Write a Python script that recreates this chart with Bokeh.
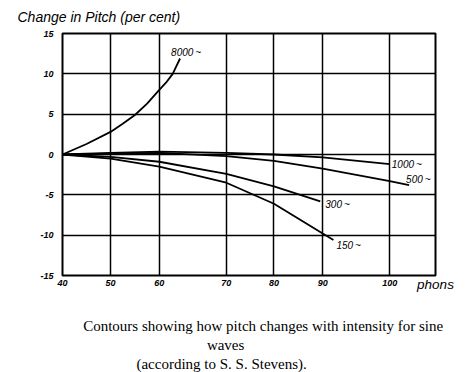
import numpy as np
from bokeh.plotting import figure
from bokeh.models import Range1d, FixedTicker, Label, LinearAxis
from bokeh.embed import file_html
from bokeh.resources import INLINE

# ---- data ----
phons_8000 = [40, 45, 50, 52.5, 55, 57.5, 60, 61, 62, 63.1]
pitch_8000 = [0, 1.3, 2.8, 3.8, 4.9, 6.3, 8.0, 8.9, 10.0, 11.9]

phons_1000 = [40, 50, 60, 70, 80, 90, 100]
pitch_1000 = [0, 0.2, 0.35, 0.2, 0.0, -0.35, -1.2]

phons_500 = [40, 50, 60, 70, 80, 90, 100, 104]
pitch_500 = [0, 0.1, 0.2, -0.2, -0.8, -1.75, -3.3, -3.8]

phons_300 = [40, 50, 60, 70, 80, 89.5]
pitch_300 = [0, -0.3, -0.9, -2.4, -3.95, -5.8]

phons_150 = [40, 50, 60, 70, 80, 90, 91.6]
pitch_150 = [0, -0.5, -1.5, -3.5, -6.1, -9.8, -10.6]

series_names = ["8000\u2009~", "1000\u2009~", "500\u2009~", "300\u2009~", "150\u2009~"]

x_ticks = [40, 50, 60, 70, 80, 90, 100]
y_ticks = [-15, -10, -5, 0, 5, 10, 15]

y_title = "Change in Pitch (per cent)"
x_unit = "phons"
caption = ["Contours showing how pitch changes with intensity for sine",
           "waves",
           "(according to S. S. Stevens)."]

# ---- non-uniform horizontal scale of the printed chart ----
SCALE_PHONS = [40, 50, 60, 70, 80, 90, 100, 110]
SCALE_POS = [0, 48, 96.7, 163.7, 211.3, 260, 327, 375.3]
X_END = 372.7


def xpos(ph):
    return np.interp(np.asarray(ph, dtype=float), SCALE_PHONS, SCALE_POS)


p = figure(frame_width=373, frame_height=242, output_backend="svg",
           toolbar_location=None, min_border_left=62, min_border_top=33,
           min_border_right=27, min_border_bottom=60)
p.x_range = Range1d(0, X_END)
p.y_range = Range1d(-15, 15)
p.background_fill_color = "white"
p.border_fill_color = "white"
p.outline_line_color = "black"
p.outline_line_width = 2

# top-left title
p.title.text = y_title
p.title.align = "left"
p.title.vertical_align = "top"
p.title.offset = -45
p.title.standoff = 14
p.title.text_font = "Liberation Sans"
p.title.text_font_style = "italic"
p.title.text_font_size = "14px"
p.title.text_color = "black"

tick_pos = [float(v) for v in xpos(x_ticks)]
p.xaxis.ticker = FixedTicker(ticks=tick_pos)
p.xaxis.major_label_overrides = {tp: str(t) for tp, t in zip(tick_pos, x_ticks)}
p.yaxis.ticker = FixedTicker(ticks=y_ticks)
p.yaxis.major_label_overrides = {t: str(t) for t in y_ticks}

for ax in (p.xaxis, p.yaxis):
    ax.axis_line_color = None
    ax.major_tick_line_color = None
    ax.minor_tick_line_color = None
    ax.major_tick_out = 0
    ax.major_tick_in = 0
    ax.major_label_text_font = "Liberation Sans"
    ax.major_label_text_font_style = "bold italic"
    ax.major_label_text_font_size = "9px"
    ax.major_label_text_color = "black"
p.yaxis.major_label_standoff = 9
p.xaxis.major_label_standoff = 4

for g in (p.xgrid, p.ygrid):
    g.grid_line_color = "black"
    g.grid_line_width = 1.5
    g.grid_line_alpha = 1.0

no_rule = dict(axis_line_color=None, major_tick_line_color=None,
               minor_tick_line_color=None, major_tick_out=0, major_tick_in=0)

# unit label at the right end of the x axis
unit_axis = LinearAxis(ticker=FixedTicker(ticks=[X_END]),
                       major_label_overrides={X_END: x_unit},
                       major_label_standoff=-12,
                       major_label_text_font="Liberation Sans",
                       major_label_text_font_style="italic",
                       major_label_text_font_size="13.5px",
                       major_label_text_color="black", **no_rule)
p.add_layout(unit_axis, "below")

# caption lines, each centred where the printed line is centred
cap_center = [200.5, 163.0, 159.0]
cap_standoff = [23, 0, 0]
for t, c, s in zip(caption, cap_center, cap_standoff):
    cap_axis = LinearAxis(ticker=FixedTicker(ticks=[c]), major_label_overrides={c: t},
                          major_label_standoff=s,
                          major_label_text_font="Liberation Serif",
                          major_label_text_font_style="normal",
                          major_label_text_font_size="15px",
                          major_label_text_color="black", **no_rule)
    p.add_layout(cap_axis, "below")

series = [
    (phons_8000, pitch_8000, -9, 6),
    (phons_1000, pitch_1000, 2, 0),
    (phons_500, pitch_500, -3, 6),
    (phons_300, pitch_300, 5, -3),
    (phons_150, pitch_150, 3, -5),
]

for (ph, pv, dx, dy), name in zip(series, series_names):
    xs = xpos(ph)
    p.line(xs, pv, line_color="black", line_width=1.8)
    p.add_layout(Label(x=float(xs[-1]), y=pv[-1], text=name, x_offset=dx, y_offset=dy,
                       text_font="Liberation Sans", text_font_style="italic",
                       text_font_size="10px", text_baseline="middle",
                       text_align="left", text_color="black"))

open("out.html", "w").write(file_html(p, INLINE))
